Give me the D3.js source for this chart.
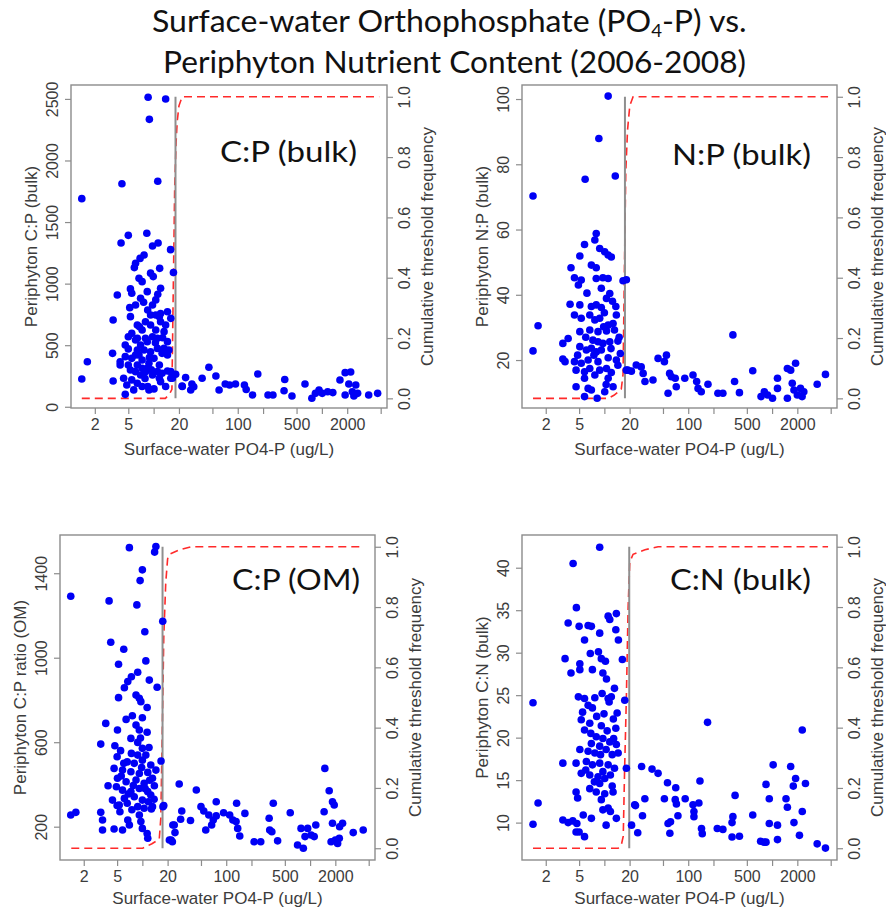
<!DOCTYPE html>
<html lang="en">
<head>
<meta charset="UTF-8">
<title>Surface-water Orthophosphate vs. Periphyton Nutrient Content</title>
<script src="https://d3js.org/d3.v7.min.js"></script>
<style>
  body { margin: 0; background: #fff; }
  svg text { font-family: "Liberation Sans", Arial, sans-serif; fill: #3c3c3c; }
  svg text.big { font-family: Lato, "Open Sans", sans-serif; fill: #111; }
</style>
</head>
<body>
<div id="chart"></div>
<script>
// ---- values ----
const titleLine1 = ["Surface-water Orthophosphate (PO", "4", "-P) vs."];
const titleLine2 = "Periphyton Nutrient Content (2006-2008)";
const panelTags = ["C:P (bulk)", "N:P (bulk)", "C:P (OM)", "C:N (bulk)"];
const yTitles = ["Periphyton C:P (bulk)", "Periphyton N:P (bulk)", "Periphyton C:P ratio (OM)", "Periphyton C:N (bulk)"];
const xTitle = "Surface-water PO4-P (ug/L)";
const rTitle = "Cumulative threshold frequency";

const xTicks = [2, 5, 10, 20, 50, 100, 200, 500, 1000, 2000, 5000];
const xTickLabels = ["2", "5", "", "20", "", "100", "", "500", "", "2000", ""];
const cumTicks = [0, 0.2, 0.4, 0.6, 0.8, 1.0];
const cpBulkTicks = [0, 500, 1000, 1500, 2000, 2500];
const npBulkTicks = [20, 40, 60, 80, 100];
const cpOmTicks = [200, 600, 1000, 1400];
const cnBulkTicks = [10, 15, 20, 25, 30, 35, 40];

// threshold (vertical grey line), ug/L
const thresholds = [18.2, 17.6, 17.4, 19.8];

// [PO4-P ug/L, ratio]
const cpBulkPoints = [
  [8.6,2513],[13.9,2499],[8.9,2334],[4.2,1811],[11.2,1831],[1.4,1690],
  [5.0,1392],[8.3,1409],[4.1,1330],[9.7,1306],[11.3,1330],[15.9,1276],[17.2,1090],
  [7.7,1232],[6.9,1205],[6.1,1165],[5.9,1130],[9.2,1085],[9.9,1057],[11.8,1124],
  [6.7,1043],[7.3,1016],[12.1,962],[5.3,957],[5.5,922],[3.7,908],[7.0,881],[7.6,849],
  [11.2,914],[10.6,868],[9.7,826],[8.5,786],[5.2,805],[9.2,745],[10.6,745],[12.1,758],
  [14.6,772],[16.0,718],[3.3,705],[5.3,732],[6.4,664],[7.3,623],[8.0,691],[9.2,664],
  [10.6,623],[12.1,691],[5.5,596],[5.0,569],[6.1,542],[7.0,502],[8.4,529],[9.7,569],
  [7.7,461],[9.2,447],[11.1,474],[14.6,529],[15.2,461],[3.25,434],[4.0,366],[4.6,407],
  [5.5,393],[6.4,339],[7.3,380],[8.8,353],[5.3,299],[6.1,285],[7.0,258],[8.0,285],
  [9.7,258],[11.1,285],[12.6,272],[14.6,291],[1.63,366],[1.4,226],[3.3,209],[5.5,218],
  [6.4,191],[7.3,164],[8.8,137],[10.1,145],[12.1,204],[13.9,164],[4.6,101],[5.8,137],
  [8.5,164],[16.0,231],[18.3,264],[4.4,231],[4.8,177],[11.7,231],[6.4,556],[8.0,556],
  [11.1,556],[13.3,610],[13.9,664],[6.4,461],[12.6,434],[6.7,420],[10.1,393],[11.7,339],
  [7.3,312],[8.4,312],[16.0,285],[16.7,231],[14.6,420],[13.3,474],[4.6,502],[4.0,339],
  [5.0,339],[6.1,420],[11.7,732],[8.4,935],[6.1,826],[21.9,164],
  [5.0,470],[8.9,400],[10.5,520],[6.8,650],[12.8,560],[7.9,230],[9.4,300],
  [21.8,168],[24,237],[28.5,185],[30,163],[27.6,136],[37.7,231],[45.4,321],[55,250],
  [60,136],[71,185],[80,177],[94,185],[120,177],[126,140],[150,96],[173,266],[229,96],
  [262,96],[362,222],[355,130],[441,88],[630,185],[760,69],[838,109],[925,136],[1010,109],
  [1172,122],[1350,115],[1640,217],[1890,277],[2200,282],[2090,185],[2300,122],[2530,177],
  [2660,109],[2400,88],[1890,96],[3600,96],[4600,109]
];

const npBulkPoints = [
  [11.1,100.9],[8.6,87.9],[5.9,75.4],[13.5,76.4],[1.41,70.3],[8.0,58.8],[7.7,56.8],
  [5.8,55.4],[8.8,54.2],[10.1,53.2],[11.1,52.2],[12.1,51.6],[5.1,51.9],[7.0,49.1],
  [4.0,48.3],[8.0,48.3],[4.4,45.2],[4.9,43.0],[5.3,44.5],[8.0,45.0],[9.6,45.2],[11.1,45.0],
  [9.2,42.0],[16.7,44.3],[18.3,44.6],[11.6,40.4],[10.6,38.9],[3.9,37.1],[5.1,36.9],
  [7.0,36.4],[8.0,36.9],[9.2,36.1],[13.7,36.4],[4.4,33.8],[5.3,32.8],[6.7,33.8],[7.7,32.3],
  [8.8,32.8],[13.9,33.8],[11.1,30.7],[12.7,31.2],[1.62,30.5],[5.1,28.7],[6.7,29.2],
  [8.4,28.7],[10.6,28.9],[13.2,29.2],[3.7,26.6],[3.2,25.1],[7.3,26.1],[8.4,25.6],[9.6,25.1],
  [11.6,25.6],[14.5,25.8],[5.1,24.1],[6.1,23.1],[7.0,23.6],[8.0,22.5],[9.2,23.1],[1.41,22.8],
  [3.2,20.3],[3.4,19.5],[4.4,19.5],[5.3,19.0],[6.4,20.0],[8.4,19.5],[11.1,20.7],[13.9,20.0],
  [14.5,18.4],[4.6,16.9],[5.8,16.4],[6.7,17.4],[8.8,16.9],[10.6,17.4],[12.1,16.2],[18.3,16.9],
  [21,16.6],[5.8,14.4],[7.7,15.4],[11.1,14.4],[4.6,11.8],[6.4,11.3],[7.0,10.8],[10.1,10.3],
  [12.7,11.8],[8.2,8.3],[5.8,8.8],[12.5,38],[10,34.5],[6.2,40.5],[9.8,30.2],[7.5,21.5],
  [12,23.5],[15,27],[6,27],[4.8,21.5],[10.5,12.5],[15.5,22],
  [19,16.9],[24,18.5],[27.5,17.9],[29,15.9],[30.5,13.4],[38,13.9],[43.7,20.5],[55,21.5],
  [52,19.5],[60,15.9],[63,14.9],[70,14.4],[57.5,9.8],[72,11.8],[91,14.4],[114,15.4],
  [126,13.4],[131,11.3],[143,10.3],[172,12.6],[226,9.8],[259,9.8],[341,27.7],[357,13.4],
  [408,10.0],[588,16.7],[738,8.8],[808,10.3],[884,9.3],[1012,8.3],[1160,14.4],[1160,11.3],
  [1522,17.4],[1666,16.9],[1907,19.0],[1740,12.9],[1823,10.8],[2182,11.3],[2390,10.3],
  [2000,9.3],[1522,8.3],[3450,12.6],[4330,15.6],[2280,8.8]
];

const cpOmPoints = [
  [7.0,1521],[14.5,1526],[14.0,1500],[10.0,1416],[9.4,1365],[1.40,1291],[4.01,1269],
  [8.6,1250],[17.5,1173],[10.7,1123],[4.2,1073],[6.0,1040],[5.2,969],[11.0,985],[8.8,931],
  [7.4,910],[6.7,887],[6.1,858],[12.1,894],[15.0,860],[8.4,823],[9.2,808],[9.6,792],
  [5.2,811],[11.4,764],[6.4,708],[7.6,725],[10.0,716],[3.66,689],[8.4,681],[9.2,658],
  [5.05,658],[11.4,647],[7.3,618],[3.19,591],[4.7,583],[8.8,599],[10.0,571],[5.0,531],
  [7.4,547],[8.8,539],[11.0,539],[6.6,507],[8.0,500],[10.0,515],[12.6,492],[16.7,511],
  [4.6,476],[5.8,468],[7.3,460],[9.2,452],[11.6,457],[14.5,468],[5.05,429],[6.4,413],
  [8.4,421],[10.5,405],[13.2,429],[3.9,394],[4.9,389],[5.8,373],[7.3,366],[9.2,381],
  [11.6,366],[13.9,394],[6.1,334],[8.0,342],[10.0,326],[12.6,350],[4.4,326],[5.3,303],
  [6.6,311],[8.8,295],[10.5,287],[13.2,295],[1.40,255],[1.61,268],[3.19,268],[3.35,232],
  [5.4,271],[9.2,255],[12.8,284],[18,300],[6.7,232],[9.6,224],[3.35,184],[4.6,189],
  [5.8,184],[10.0,192],[11.4,168],[11.6,145],[7.0,208],[22,137],[24,208],
  [5.5,560],[9.5,620],[12.0,575],[6.0,500],[9.8,480],[12.2,420],[5.6,440],[7.8,395],
  [10.8,380],[6.8,355],[11.8,318],[13.8,330],[7.5,280],[5.0,300],
  [17.6,295],[21,137],[22.8,129],[23.1,208],[24.5,172],[27.5,402],[29.5,274],[28.6,235],
  [37.5,229],[44,374],[50,295],[54,274],[57,184],[62,255],[67,208],[70,232],[76,318],
  [76,251],[93,266],[110,255],[120,232],[131,224],[133,311],[137,192],[145,156],[167,263],
  [215,129],[258,129],[325,240],[330,184],[350,176],[364,311],[410,133],[580,266],[709,113],
  [831,98],[780,192],[936,192],[870,153],[1028,161],[1120,153],[1170,208],[1470,271],
  [1500,476],[1690,370],[1850,318],[1940,303],[1850,216],[2000,137],[2130,121],[2230,145],
  [2250,200],[2440,216],[3270,172],[4300,184],[1780,129]
];

const cnBulkPoints = [
  [8.8,42.4],[4.24,40.5],[4.64,35.3],[11.1,34.3],[13.9,34.6],[11.6,33.9],[3.7,33.5],
  [5.0,33.1],[6.4,33.2],[7.0,33.1],[8.8,32.3],[13.7,32.7],[5.8,31.5],[14.7,31.5],[6.8,29.9],
  [8.5,30.1],[3.4,29.3],[5.1,28.7],[9.2,29.3],[10.3,29.0],[16.4,29.2],[4.0,27.6],[5.1,28.0],
  [7.2,28.0],[9.6,27.6],[10.6,26.9],[13.2,25.8],[4.9,24.8],[5.8,24.6],[7.7,24.7],[9.4,25.2],
  [11.1,24.6],[12.1,24.8],[1.41,24.1],[17.5,24.4],[6.4,23.8],[7.2,23.5],[11.4,24.2],[8.1,22.5],
  [14.2,22.9],[5.3,22.1],[6.7,21.7],[9.2,21.4],[13.7,21.1],[5.8,20.9],[8.0,20.1],[9.6,19.9],
  [11.6,19.5],[7.0,19.3],[8.8,19.0],[13.9,19.2],[5.1,18.6],[6.4,18.4],[7.7,18.2],[10.5,18.6],
  [12.4,18.0],[14.6,18.2],[3.2,17.0],[4.6,17.0],[6.1,17.2],[7.2,16.8],[8.8,17.0],[11.1,16.8],
  [13.2,16.4],[18.3,16.4],[5.3,15.8],[6.7,15.6],[8.4,15.4],[10.1,15.2],[8.8,14.6],[6.7,14.0],
  [4.6,13.6],[8.0,13.6],[10.1,13.4],[12.7,13.6],[4.8,12.9],[9.2,12.7],[1.62,12.3],[9.6,11.5],
  [11.1,11.7],[11.8,11.3],[13.9,10.5],[5.6,10.9],[7.0,10.5],[3.2,10.3],[3.7,10.0],[4.2,10.2],
  [4.7,9.9],[1.41,9.8],[10.5,9.7],[4.6,8.9],[5.0,8.9],[5.8,8.35],[23,12.1],
  [5.5,23],[9.9,22.8],[12.8,22.2],[6.9,20.5],[10.8,20.8],[12.9,19.9],[9.0,18.0],[6.0,16.2],
  [11.8,15.6],[7.6,14.8],[12.4,14.3],[9.6,16.0],
  [21.1,9.7],[23.5,12.0],[25,8.8],[27.8,16.6],[28.5,10.8],[30.4,12.8],[37,16.3],[43.7,15.8],
  [52,12.8],[56.6,14.7],[57.5,9.9],[60.4,8.75],[61.5,10.1],[71,14.1],[70,12.7],[72.3,12.2],
  [75.4,10.8],[92,12.8],[114,12.1],[117,11.3],[117,10.7],[134,12.3],[138,14.9],[144,9.3],
  [147,8.7],[170,21.8],[222,9.3],[259,9.2],[333,10.0],[341,10.7],[362,13.2],[333,8.3],
  [408,8.4],[588,10.9],[730,7.8],[800,7.7],[846,7.7],[846,14.5],[926,12.8],[926,9.9],
  [1030,16.8],[1160,9.7],[1160,8.0],[1466,12.8],[1522,11.8],[1666,16.6],[1790,14.3],
  [1907,15.2],[1823,10.0],[2120,8.5],[2290,20.9],[2290,11.3],[2500,14.6],[3450,7.5],[4330,7.0]
];

// cumulative threshold frequency curves [PO4-P, frequency]
const cpBulkCum = [[1.4,0],[13.8,0],[15.5,0.015],[16.5,0.03],[17.0,0.3],[17.8,0.7],[18.5,0.85],[19.1,0.92],[20,0.97],[21.8,1.0],[4800,1.0]];
const npBulkCum = [[1.41,0],[11.1,0],[13,0.01],[15.9,0.03],[16.7,0.08],[17.3,0.4],[18,0.75],[18.9,0.89],[20.1,0.97],[22,1.0],[4650,1.0]];
const cpOmCum = [[1.42,0],[10.1,0],[13,0.015],[15.9,0.03],[16.6,0.1],[17.3,0.4],[18,0.7],[19,0.88],[20,0.96],[21,0.975],[27.9,0.99],[38,1.0],[4300,1.0]];
const cnBulkCum = [[1.41,0],[14.6,0],[15.9,0.01],[16.8,0.04],[17.4,0.25],[18.3,0.5],[19.2,0.8],[20.1,0.95],[22,0.975],[30.5,0.99],[43.7,1.0],[4650,1.0]];

// ---- layout ----
const width = 886, height = 911;
const xDomain = [1.042, 5944];
const panels = [
  { left: 71,  top: 85,  w: 316, h: 323, yDomain: [-10, 2613],  rDomain: [-0.032, 1.039], xTitleY: 47, tag: [220, 162, 137], pts: cpBulkPoints, cum: cpBulkCum, yTicks: cpBulkTicks },
  { left: 522, top: 85,  w: 315, h: 323, yDomain: [5.3, 104.3], rDomain: [-0.032, 1.039], xTitleY: 47, tag: [672, 165, 139], pts: npBulkPoints, cum: npBulkCum, yTicks: npBulkTicks },
  { left: 60,  top: 535, w: 315, h: 325, yDomain: [42.3, 1581], rDomain: [-0.039, 1.039], xTitleY: 44, tag: [232, 590, 128], pts: cpOmPoints,   cum: cpOmCum,   yTicks: cpOmTicks },
  { left: 522, top: 535, w: 315, h: 325, yDomain: [5.6, 43.85], rDomain: [-0.039, 1.039], xTitleY: 44, tag: [670, 590, 141], pts: cnBulkPoints, cum: cnBulkCum, yTicks: cnBulkTicks }
];
const axisColor = "#8c8c8c";

const svg = d3.select("#chart").append("svg")
  .attr("width", width)
  .attr("height", height);

// main title, two lines; line 1 carries a subscript
const t1 = svg.append("text").attr("class", "big")
  .attr("x", 152).attr("y", 32.5)
  .style("font-size", "31px");
t1.append("tspan").text(titleLine1[0]);
t1.append("tspan").attr("dy", 5).style("font-size", "18px").text(titleLine1[1]);
t1.append("tspan").attr("dy", -5).text(titleLine1[2]);
const w1 = t1.node().getComputedTextLength();
t1.attr("transform", `translate(152,0) scale(${595 / w1},1) translate(-152,0)`);

svg.append("text").attr("class", "big")
  .attr("x", 163).attr("y", 72.5)
  .attr("textLength", 583).attr("lengthAdjust", "spacingAndGlyphs")
  .style("font-size", "31px")
  .text(titleLine2);

panels.forEach((p, i) => {
  const g = svg.append("g").attr("transform", `translate(${p.left},${p.top})`);
  const x = d3.scaleLog().domain(xDomain).range([0, p.w]);
  const y = d3.scaleLinear().domain(p.yDomain).range([p.h, 0]);
  const r = d3.scaleLinear().domain(p.rDomain).range([p.h, 0]);

  // cumulative threshold frequency
  g.append("path")
    .datum(p.cum)
    .attr("d", d3.line().x(d => x(d[0])).y(d => r(d[1])))
    .attr("fill", "none")
    .attr("stroke", "#ff2a2a")
    .attr("stroke-width", 1.6)
    .attr("stroke-dasharray", "8,5");

  // threshold line
  g.append("line")
    .attr("x1", x(thresholds[i])).attr("x2", x(thresholds[i]))
    .attr("y1", r(0)).attr("y2", r(1))
    .attr("stroke", "#8f8f8f")
    .attr("stroke-width", 2);

  g.selectAll("circle")
    .data(p.pts)
    .enter().append("circle")
    .attr("cx", d => x(d[0]))
    .attr("cy", d => y(d[1]))
    .attr("r", 3.8)
    .attr("fill", "#0000f5");

  g.append("rect")
    .attr("width", p.w).attr("height", p.h)
    .attr("fill", "none")
    .attr("stroke", axisColor)
    .attr("stroke-width", 1.4);

  // bottom axis
  g.append("g")
    .attr("transform", `translate(0,${p.h})`)
    .call(d3.axisBottom(x).tickValues(xTicks).tickSize(6).tickFormat((d, k) => xTickLabels[k]))
    .call(a => a.select(".domain").remove())
    .call(a => a.selectAll("line").attr("stroke", axisColor).attr("stroke-width", 1.2))
    .call(a => a.selectAll("text").attr("y", 22).attr("dy", null).attr("fill", null).style("font-size", "16px"));

  // left axis
  g.append("g")
    .call(d3.axisLeft(y).tickValues(p.yTicks).tickSize(6).tickFormat(d3.format("d")))
    .call(a => a.select(".domain").remove())
    .call(a => a.selectAll("line").attr("stroke", axisColor).attr("stroke-width", 1.2))
    .call(a => a.selectAll("text")
      .attr("x", 0).attr("y", -13).attr("dy", null).attr("fill", null)
      .attr("transform", "rotate(-90)")
      .attr("text-anchor", "middle")
      .style("font-size", "16px"));

  // right axis
  g.append("g")
    .attr("transform", `translate(${p.w},0)`)
    .call(d3.axisRight(r).tickValues(cumTicks).tickSize(6).tickFormat(d3.format(".1f")))
    .call(a => a.select(".domain").remove())
    .call(a => a.selectAll("line").attr("stroke", axisColor).attr("stroke-width", 1.2))
    .call(a => a.selectAll("text")
      .attr("x", 0).attr("y", 23).attr("dy", null).attr("fill", null)
      .attr("transform", "rotate(-90)")
      .attr("text-anchor", "middle")
      .style("font-size", "16px"));

  // axis titles
  g.append("text")
    .attr("x", p.w / 2).attr("y", p.h + p.xTitleY)
    .attr("text-anchor", "middle")
    .style("font-size", "17px")
    .text(xTitle);
  g.append("text")
    .attr("transform", `translate(-34,${p.h / 2}) rotate(-90)`)
    .attr("text-anchor", "middle")
    .style("font-size", "17px")
    .text(yTitles[i]);
  g.append("text")
    .attr("transform", `translate(${p.w + 46},${p.h / 2}) rotate(-90)`)
    .attr("text-anchor", "middle")
    .style("font-size", "17px")
    .text(rTitle);

  // panel tag
  svg.append("text").attr("class", "big")
    .attr("x", p.tag[0]).attr("y", p.tag[1])
    .attr("textLength", p.tag[2]).attr("lengthAdjust", "spacingAndGlyphs")
    .style("font-size", "29px")
    .text(panelTags[i]);
});
</script>
</body>
</html>
